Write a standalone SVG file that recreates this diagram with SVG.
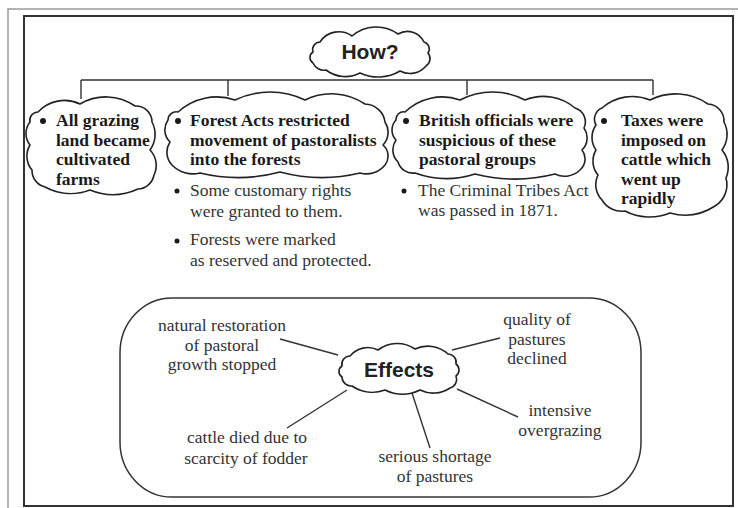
<svg xmlns="http://www.w3.org/2000/svg" width="738" height="508" viewBox="0 0 738 508">
<style>
.cloud{fill:#fff;stroke:#222;stroke-width:1.6;stroke-linejoin:round}
.b{font-family:"Liberation Serif","Times New Roman",serif;font-weight:bold;font-size:17.5px;fill:#1a1a1a}
.r{font-family:"Liberation Serif","Times New Roman",serif;font-size:17.5px;fill:#333}
.h{font-family:"Liberation Sans",Arial,sans-serif;font-weight:bold;font-size:21px;fill:#222}
.ln{stroke:#333;stroke-width:1.4;fill:none}
.dot{fill:#1a1a1a}
.c{text-anchor:middle}
</style>
<rect width="738" height="508" fill="#fff"/>
<g id="frame">
<path d="M8 508 V9 H738" fill="none" stroke="#9a9a9a" stroke-width="1.5"/>
<rect x="24" y="16" width="709" height="490" fill="none" stroke="#333" stroke-width="2"/>
</g>
<g id="connectors">
<path class="ln" d="M81 80 H653 M81 80 V99 M228 80 V96 M467 80 V95 M653 80 V95"/>
<path class="ln" d="M280 339 L338 355 M500 338 L452 350 M287 428 L347 390 M430 448 L412 393 M518 417 L457 389"/>
</g>
<g id="how">
<path class="cloud" d="M320 42 A22.5 22.5 0 0 1 352 36 A37 37 0 0 1 398 34 A18.4 18.4 0 0 1 424 42 A7.2 7.2 0 0 1 428 53 A8.8 8.8 0 0 1 426 66 A21 21 0 0 1 400 71 A42.5 42.5 0 0 1 360 73 A31.7 31.7 0 0 1 326 70 A11.8 11.8 0 0 1 313 63 A6.5 6.5 0 0 1 313 52 A7.7 7.7 0 0 1 320 42 Z"/>
<text class="h c" x="370" y="59">How?</text>
</g>
<g id="n1">
<path class="cloud" d="M38 112 A36 36 0 0 1 80 104 A51 51 0 0 1 135 106 A16 16 0 0 1 152 122 A26.5 26.5 0 0 1 150 150 A22 22 0 0 1 154 175 A17 17 0 0 1 138 189 A60 60 0 0 1 90 190 A54 54 0 0 1 45 187 A17 17 0 0 1 32 170 A21.5 21.5 0 0 1 30 145 A18.5 18.5 0 0 1 30 122 A8.3 8.3 0 0 1 38 112 Z"/>
<circle class="dot" cx="43" cy="121" r="3"/>
<text class="b" x="56" y="126">All grazing</text>
<text class="b" x="56" y="146">land became</text>
<text class="b" x="56" y="165">cultivated</text>
<text class="b" x="56" y="185">farms</text>
</g>
<g id="n2">
<path class="cloud" d="M178 112 A57 57 0 0 1 235 100 A80.5 80.5 0 0 1 305 100 A60 60 0 0 1 365 104 A20.6 20.6 0 0 1 385 122 A18.6 18.6 0 0 1 383 145 A14.6 14.6 0 0 1 385 165 A24 24 0 0 1 360 173 A162 162 0 0 1 280 172 A162 162 0 0 1 200 173 A29 29 0 0 1 172 165 A18.6 18.6 0 0 1 170 142 A17 17 0 0 1 168 120 A8.3 8.3 0 0 1 178 112 Z"/>
<circle class="dot" cx="178" cy="121" r="3"/>
<text class="b" x="190" y="126">Forest Acts restricted</text>
<text class="b" x="190" y="146">movement of pastoralists</text>
<text class="b" x="190" y="165">into the forests</text>
<circle class="dot" cx="177" cy="191" r="2.5"/>
<text class="r" x="190" y="196">Some customary rights</text>
<text class="r" x="190" y="217">were granted to them.</text>
<circle class="dot" cx="177" cy="241" r="2.5"/>
<text class="r" x="190" y="245">Forests were marked</text>
<text class="r" x="190" y="266">as reserved and protected.</text>
</g>
<g id="n3">
<path class="cloud" d="M405 112 A53.5 53.5 0 0 1 460 100 A70 70 0 0 1 525 100 A49 49 0 0 1 575 108 A14.5 14.5 0 0 1 584 128 A17 17 0 0 1 582 150 A14.6 14.6 0 0 1 580 170 A22 22 0 0 1 555 174 A162 162 0 0 1 475 174 A92.5 92.5 0 0 1 415 173 A15.5 15.5 0 0 1 398 162 A17 17 0 0 1 396 140 A14.5 14.5 0 0 1 396 120 A7.5 7.5 0 0 1 405 112 Z"/>
<circle class="dot" cx="406" cy="121" r="3"/>
<text class="b" x="419" y="126">British officials were</text>
<text class="b" x="419" y="146">suspicious of these</text>
<text class="b" x="419" y="165">pastoral groups</text>
<circle class="dot" cx="404" cy="191" r="2.5"/>
<text class="r" x="418" y="196">The Criminal Tribes Act</text>
<text class="r" x="418" y="216">was passed in 1871.</text>
</g>
<g id="n4">
<path class="cloud" d="M602 108 A46 46 0 0 1 650 100 A57 57 0 0 1 708 104 A17 17 0 0 1 724 122 A26.6 26.6 0 0 1 722 150 A27 27 0 0 1 726 178 A25 25 0 0 1 715 206 A55 55 0 0 1 670 213 A53 53 0 0 1 625 211 A23 23 0 0 1 602 200 A22 22 0 0 1 598 175 A21.7 21.7 0 0 1 596 150 A21.5 21.5 0 0 1 596 125 A12 12 0 0 1 602 108 Z"/>
<circle class="dot" cx="604" cy="121" r="3"/>
<text class="b" x="621" y="126">Taxes were</text>
<text class="b" x="621" y="146">imposed on</text>
<text class="b" x="621" y="165">cattle which</text>
<text class="b" x="621" y="185">went up</text>
<text class="b" x="621" y="204">rapidly</text>
</g>
<g id="effects-box">
<rect x="120" y="298" width="521" height="199" rx="52" ry="55" fill="none" stroke="#333" stroke-width="1.5"/>
</g>
<g id="effects">
<path class="cloud" d="M350 356 A23 23 0 0 1 378 350 A31.5 31.5 0 0 1 415 349 A30 30 0 0 1 448 354 A8.3 8.3 0 0 1 456 364 A7.5 7.5 0 0 1 456 376 A9 9 0 0 1 450 388 A30 30 0 0 1 420 390 A40 40 0 0 1 385 390 A36.5 36.5 0 0 1 352 386 A9.1 9.1 0 0 1 342 377 A6.5 6.5 0 0 1 342 366 A8.3 8.3 0 0 1 350 356 Z"/>
<text class="h c" x="399" y="377">Effects</text>
</g>
<g id="e1"><text class="r c" x="222" y="331">natural restoration</text><text class="r c" x="222" y="351">of pastoral</text><text class="r c" x="222" y="370">growth stopped</text></g>
<g id="e2"><text class="r c" x="537" y="325">quality of</text><text class="r c" x="537" y="345">pastures</text><text class="r c" x="537" y="364">declined</text></g>
<g id="e3"><text class="r c" x="560" y="416">intensive</text><text class="r c" x="560" y="436">overgrazing</text></g>
<g id="e4"><text class="r c" x="247" y="443">cattle died due to</text><text class="r c" x="246" y="464">scarcity of fodder</text></g>
<g id="e5"><text class="r c" x="435" y="462">serious shortage</text><text class="r c" x="435" y="482">of pastures</text></g>
</svg>
